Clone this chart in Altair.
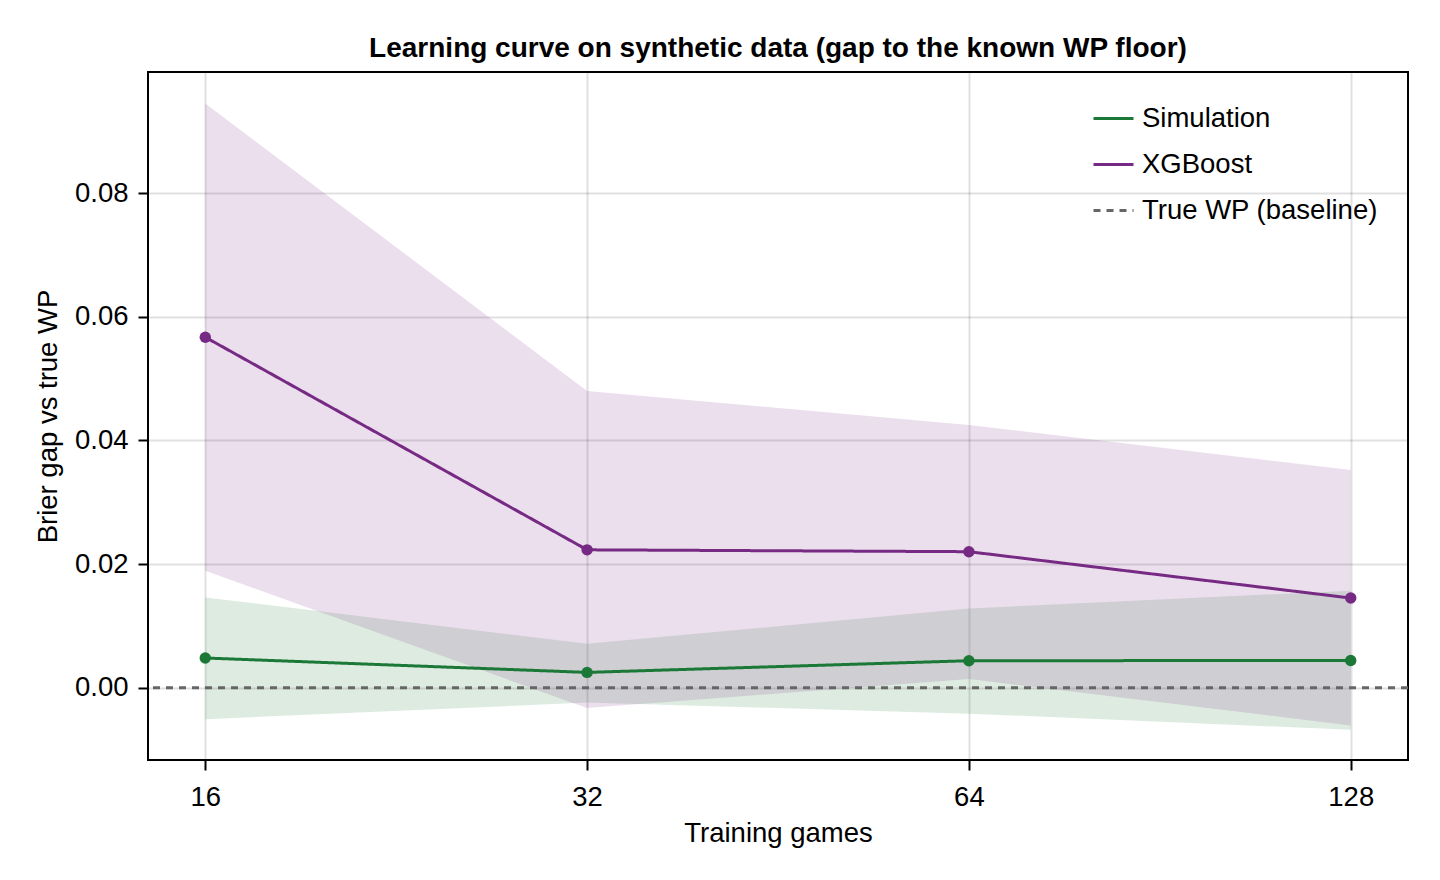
import altair as alt
import pandas as pd

games = [16, 32, 64, 128]
sim_mean = [0.0048, 0.00247, 0.00436, 0.0044]
sim_lo = [-0.0051, -0.0024, -0.0042, -0.0068]
sim_hi = [0.0146, 0.0071, 0.0128, 0.0157]
xgb_mean = [0.0567, 0.0223, 0.0220, 0.0145]
xgb_lo = [0.0189, -0.0033, 0.0014, -0.0061]
xgb_hi = [0.0945, 0.0480, 0.0425, 0.0352]
baseline = [0.0]

models = ["Simulation", "XGBoost", "True WP (baseline)"]
colors = ["#1b7837", "#762a83", "#666666"]
dashes = [[1, 0], [1, 0], [7, 6]]

rows = []
for i, g in enumerate(games):
    rows.append({"games": g, "model": "Simulation", "mean": sim_mean[i], "lo": sim_lo[i], "hi": sim_hi[i]})
    rows.append({"games": g, "model": "XGBoost", "mean": xgb_mean[i], "lo": xgb_lo[i], "hi": xgb_hi[i]})
df = pd.DataFrame(rows)
base_df = pd.DataFrame({"model": ["True WP (baseline)"], "value": baseline})

FONT = "Liberation Sans"

xscale = alt.Scale(type="log", base=2, domain=[16 * 2 ** -0.15, 128 * 2 ** 0.15], nice=False)
yscale = alt.Scale(domain=[-0.0117, 0.0996], nice=False, zero=False)
cscale = alt.Scale(domain=models, range=colors)
dscale = alt.Scale(domain=models, range=dashes)

xax = alt.Axis(values=games, format="d", title="Training games", grid=True)
yax = alt.Axis(values=[0, 0.02, 0.04, 0.06, 0.08], format=".2f", title="Brier gap vs true WP", grid=True)

leg = alt.Legend(
    title=None, orient="none", legendX=944, legendY=25,
    symbolType="stroke", symbolSize=1600, symbolStrokeWidth=3,
    labelFontSize=27.5, labelFont=FONT, labelOffset=7, rowPadding=11,
    labelLimit=500, padding=0, labelColor="black")

base = alt.Chart(df)

areas = base.mark_area(opacity=0.15).encode(
    x=alt.X("games:Q", scale=xscale, axis=xax),
    y=alt.Y("lo:Q", scale=yscale, axis=yax),
    y2="hi:Q",
    color=alt.Color("model:N", scale=cscale, legend=None),
)

rule = alt.Chart(base_df).mark_rule(strokeWidth=3).encode(
    y=alt.Y("value:Q", scale=yscale),
    color=alt.Color("model:N", scale=cscale, legend=None),
    strokeDash=alt.StrokeDash("model:N", scale=dscale, legend=None),
)

lines = base.mark_line(strokeWidth=3).encode(
    x=alt.X("games:Q", scale=xscale),
    y=alt.Y("mean:Q", scale=yscale),
    color=alt.Color("model:N", scale=cscale, legend=leg),
    strokeDash=alt.StrokeDash("model:N", scale=dscale, legend=leg),
)

points = base.mark_circle(size=130, opacity=1).encode(
    x=alt.X("games:Q", scale=xscale),
    y=alt.Y("mean:Q", scale=yscale),
    color=alt.Color("model:N", scale=cscale, legend=None),
)

chart = alt.layer(areas, rule, lines, points).resolve_legend(
    color="independent", strokeDash="independent"
).properties(
    width=1260,
    height=688,
    padding={"left": 140, "top": 64, "right": 20, "bottom": 100},
    autosize=alt.AutoSizeParams(type="none"),
    title=alt.Title("Learning curve on synthetic data (gap to the known WP floor)",
                    font=FONT, fontSize=28, fontWeight="bold", color="black",
                    anchor="middle", offset=9),
).configure_view(
    stroke="black", strokeWidth=2
).configure_axis(
    labelFont=FONT, titleFont=FONT, labelFontSize=27.5, titleFontSize=27.5,
    labelColor="black", titleColor="black", titleFontWeight="normal",
    tickColor="black", tickWidth=2, tickSize=10, domain=False,
    gridColor="black", gridOpacity=0.12, gridWidth=2,
).configure_axisX(
    labelPadding=13, titlePadding=9,
).configure_axisY(
    labelPadding=10, titlePadding=12,
)

chart.save("out.html", embed_options={"renderer": "svg", "actions": False})
